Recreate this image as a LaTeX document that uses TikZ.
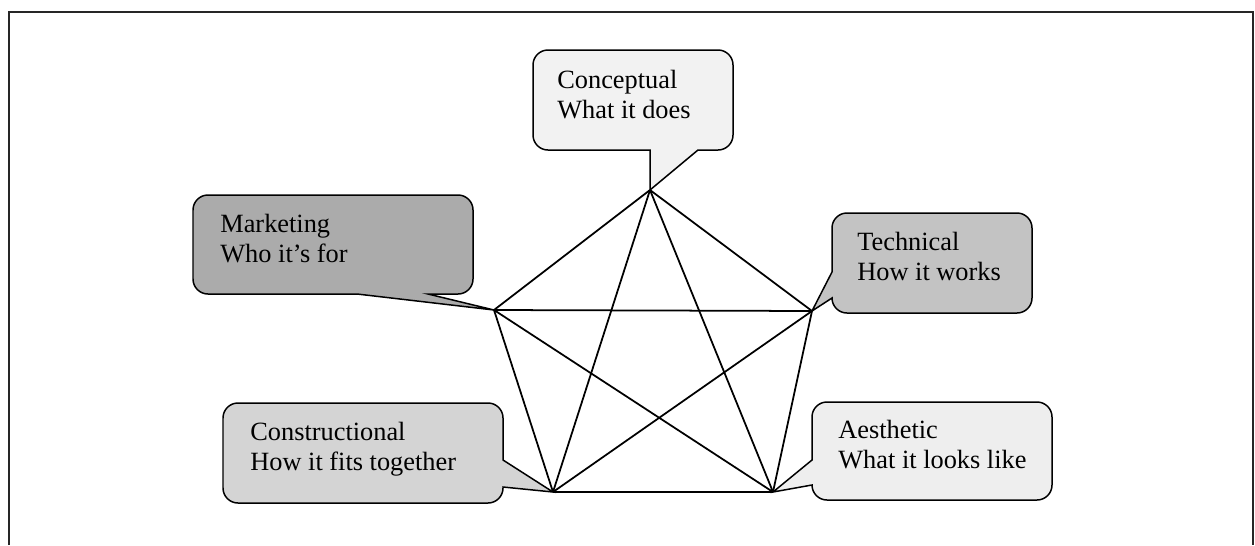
\documentclass[tikz,border=0pt]{standalone}
\usepackage{fontspec}
\setmainfont{Liberation Serif}
\usepackage{tikz}
\usetikzlibrary{positioning}
\definecolor{fconc}{HTML}{F2F2F2}
\definecolor{ftech}{HTML}{C3C3C3}
\definecolor{fmark}{HTML}{ABABAB}
\definecolor{fcons}{HTML}{D4D4D4}
\definecolor{faest}{HTML}{EEEEEE}
\tikzstyle{line} = [draw, line width=1pt]
\tikzstyle{frame} = [draw, line width=1.1pt, black!85]
\tikzstyle{bubble} = [draw, line width=0.85pt, line join=miter]
\tikzstyle{round} = [rounded corners=0.3cm]
\tikzstyle{btext} = [anchor=base west, align=left, inner sep=0pt, font=\fontsize{15}{17}\selectfont]

\begin{document}
\begin{tikzpicture}[x=0.02cm, y=-0.02cm]
			\useasboundingbox (0, 0) rectangle (1255, 545);
			\path [frame] (9, 545) -- (9, 12) -- (1253, 12) -- (1253, 545);
			
			% corners of the star
			\coordinate (vcon) at (650, 190);
			\coordinate (vtec) at (812, 311);
			\coordinate (vmkt) at (494, 310);
			\coordinate (vcst) at (553, 492);
			\coordinate (vaes) at (773, 492);
			
			% callouts
			\path [bubble, fill=fconc] (vcon) -- (698, 150) [round] -- (733, 150) -- (733, 50) -- (533, 50) -- (533, 150) [sharp corners] -- (650, 150) -- cycle;
			\path [bubble, fill=ftech] (vtec) -- (832, 298) [round] -- (832, 313) -- (1032, 313) -- (1032, 213) -- (832, 213) [sharp corners] -- (832, 272) -- cycle;
			\path [bubble, fill=fmark] (vmkt) -- (428, 294) [round] -- (473, 294) -- (473, 195) -- (193, 195) -- (193, 294) [sharp corners] -- (357, 294) -- cycle;
			\path [bubble, fill=fcons] (vcst) -- (503, 460) [round] -- (503, 403) -- (223, 403) -- (223, 503) -- (503, 503) [sharp corners] -- (503, 487) -- cycle;
			\path [bubble, fill=faest] (vaes) -- (812, 485) [round] -- (812, 500) -- (1052, 500) -- (1052, 402) -- (812, 402) [sharp corners] -- (812, 460) -- cycle;
			
			\node [btext] (con) at (557, 118) {Conceptual\\What it does};
			\node [btext] (tec) at (857, 280) {Technical\\How it works};
			\node [btext] (mkt) at (220, 262) {Marketing\\Who it's for};
			\node [btext] (cst) at (250, 470) {Constructional\\How it fits together};
			\node [btext] (aes) at (838, 468) {Aesthetic\\What it looks like};
			
			% every corner to every other
			\path [line] (vcon) -- (vtec);
			\path [line] (vcon) -- (vmkt);
			\path [line] (vcon) -- (vcst);
			\path [line] (vcon) -- (vaes);
			\path [line] (vtec) -- (vmkt);
			\path [line] (vtec) -- (vcst);
			\path [line] (vtec) -- (vaes);
			\path [line] (vmkt) -- (vcst);
			\path [line] (vmkt) -- (vaes);
			\path [line] (vcst) -- (vaes);
		\end{tikzpicture}
\end{document}
